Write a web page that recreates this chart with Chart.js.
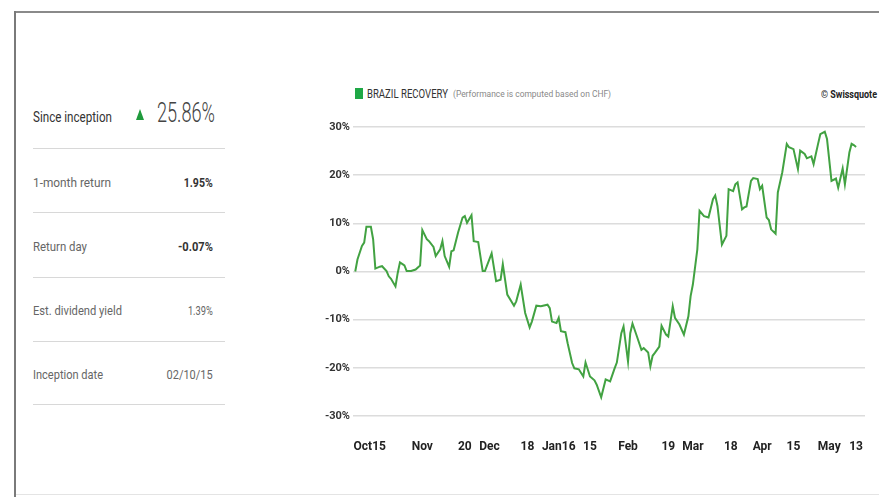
<!DOCTYPE html>
<html>
<head>
<meta charset="utf-8">
<script src="https://cdn.jsdelivr.net/npm/chart.js@4/dist/chart.umd.min.js"></script>
<style>
  html, body { margin: 0; padding: 0; background: #fff; }
  body { width: 879px; height: 497px; position: relative; overflow: hidden; font-family: Roboto, "Noto Sans", sans-serif; }
  .frame-top { position: absolute; left: 15px; top: 11px; width: 864px; height: 2px; background: #8a8a8a; }
  .frame-left { position: absolute; left: 14px; top: 11px; width: 2px; height: 486px; background: #7a7a7a; }
  .frame-bottom { position: absolute; left: 16px; top: 494px; width: 863px; height: 1px; background: #e4e4e4; }
  .t { position: absolute; white-space: nowrap; line-height: 1; }
  .l { transform-origin: left center; }
  .r { transform-origin: right center; text-align: right; }
  .lbl { font-size: 13px; color: #666; }
  .val { font-size: 13px; color: #666; }
  .b { font-weight: bold; color: #333; }
  .rule { position: absolute; left: 33px; width: 192px; height: 1px; background: #d8d8d8; }
  #wrap { position: absolute; left: 300px; top: 110px; width: 579px; height: 350px; }
</style>
</head>
<body>
<div class="frame-top"></div>
<div class="frame-left"></div>
<div class="frame-bottom"></div>

<!-- key figures; data-w is the width each text is narrowed to -->
<div class="t l" data-w="79" style="left:33px;top:110px;font-size:14px;color:#333;">Since inception</div>
<div style="position:absolute;left:136px;top:109px;width:0;height:0;border-left:4.5px solid transparent;border-right:4.5px solid transparent;border-bottom:11px solid #1f9a3c;"></div>
<div class="t l" data-w="58" style="left:157px;top:99px;font-size:28px;font-weight:300;color:#444;">25.86%</div>
<div class="rule" style="top:148px"></div>

<div class="t l lbl" data-w="78" style="left:33px;top:176px;">1-month return</div>
<div class="t r val b" data-w="29" style="right:666px;top:176px;">1.95%</div>
<div class="rule" style="top:212px"></div>

<div class="t l lbl" data-w="54" style="left:33px;top:240px;">Return day</div>
<div class="t r val b" data-w="35" style="right:666px;top:240px;">-0.07%</div>
<div class="rule" style="top:277px"></div>

<div class="t l lbl" data-w="89" style="left:33px;top:304px;">Est. dividend yield</div>
<div class="t r val" data-w="25" style="right:666px;top:304px;">1.39%</div>
<div class="rule" style="top:341px"></div>

<div class="t l lbl" data-w="70" style="left:33px;top:368px;">Inception date</div>
<div class="t r val" data-w="46" style="right:666px;top:368px;">02/10/15</div>
<div class="rule" style="top:404px"></div>

<!-- chart header -->
<div style="position:absolute;left:355px;top:88px;width:8px;height:11px;background:#1fa846;"></div>
<div class="t l" data-w="81" style="left:367px;top:88px;font-size:12px;color:#333;">BRAZIL RECOVERY</div>
<div class="t l" data-w="158" style="left:453px;top:90px;font-size:9px;color:#888;">(Performance is computed based on CHF)</div>
<div class="t l" data-w="56" style="left:821px;top:89px;font-size:11px;font-weight:bold;color:#222;">© Swissquote</div>

<div id="wrap"><canvas id="perfChart"></canvas></div>

<script>
// days since inception (02/10/15) and performance in %
const days = [0, 1, 3, 4, 5, 7, 8, 9, 11, 12, 14, 15, 16, 18, 19, 20, 22, 23, 25, 27,
  29, 30, 32, 33, 35, 36, 38, 39, 40, 42, 43, 44, 46, 48, 49, 50, 52, 53, 55, 57,
  58, 61, 63, 65, 66, 68, 71, 72, 74, 76, 78, 79, 81, 83, 86, 87, 88, 90, 91, 92,
  94, 95, 97, 98, 100, 102, 103, 105, 107, 108, 110, 112, 114, 116, 117, 119, 120, 122, 123, 124,
  126, 128, 129, 131, 132, 133, 134, 136, 137, 139, 140, 142, 143, 145, 147, 149, 150, 151, 153, 154,
  156, 158, 160, 161, 162, 164, 166, 167, 169, 170, 171, 173, 174, 175, 177, 178, 180, 181, 182, 184,
  185, 186, 188, 189, 191, 193, 194, 196, 198, 199, 201, 202, 204, 205, 207, 208, 210, 211, 213, 215,
  216, 218, 219, 221, 222, 223, 224];
const performance = [0, 2.5, 5.3, 6, 9.3, 9.3, 6.7, 0.6, 1, 1.1, 0.1, -1, -1.5, -3.1, -0.3, 1.9, 1.25, 0.1, 0.1, 0.4,
  1.25, 8.6, 6.7, 6.3, 5.1, 3.2, 4.6, 6.3, 3.2, 1, 4.2, 4.4, 8.1, 11.2, 11.5, 10.1, 11.7, 6.3, 6.1, 0.1,
  0.1, 3.75, -2, -1.7, 1.5, -4.8, -7.1, -6.2, -2.7, -8.6, -11.6, -10.4, -7.1, -7.2, -6.9, -7.6, -10.4, -10.7, -9.6, -12.4,
  -12.6, -14.9, -19, -20.1, -20.3, -21.8, -18.9, -21.8, -22.6, -23.5, -26.1, -22.4, -22.8, -20.1, -18.9, -12.8, -11.4, -18.7, -12.8, -10.8,
  -13.5, -16.25, -15.9, -16.8, -19.7, -17.5, -16.9, -15.6, -11.25, -13.1, -13.5, -7.2, -9.6, -11, -13.1, -9.3, -5.1, -2.7, 4.6, 12.6,
  11.5, 11.2, 15, 15.8, 13.6, 5.6, 7.4, 17.1, 16.7, 18.1, 18.5, 12.9, 13.3, 13.5, 18.8, 19.4, 19.2, 17.1, 17.8, 11.2,
  10.7, 8.75, 7.85, 16.4, 20.6, 26.5, 25.8, 25.4, 21.25, 25.1, 24.4, 23.5, 23.9, 22.3, 26.5, 28.5, 29, 27.5, 18.8, 19.3,
  17.4, 21.4, 18.1, 24.7, 26.5, 26.25, 25.86];

// x axis labels; the first one sits just inside the left edge
const tickDays = [6.5, 30, 49, 60, 77, 91, 105, 122, 140, 151, 168, 182, 196, 212, 224];
const tickLabels = ['Oct15', 'Nov', '20', 'Dec', '18', 'Jan16', '15', 'Feb', '19', 'Mar', '18', 'Apr', '15', 'May', '13'];
const yTicks = [-30, -20, -10, 0, 10, 20, 30];

// squeeze the html texts into a narrow look
document.querySelectorAll('[data-w]').forEach(el => {
  const w = el.getBoundingClientRect().width;
  el.style.transform = 'scaleX(' + (el.dataset.w / w) + ')';
});

const axisFont = { family: 'Roboto, sans-serif', weight: 'bold' };

new Chart(document.getElementById('perfChart'), {
  type: 'line',
  data: {
    datasets: [{
      label: 'BRAZIL RECOVERY',
      data: days.map((d, i) => ({ x: d, y: performance[i] })),
      borderColor: '#42a242',
      borderWidth: 2,
      pointRadius: 0,
      tension: 0,
      fill: false
    }]
  },
  options: {
    responsive: true,
    maintainAspectRatio: false,
    animation: false,
    layout: { padding: { top: 17, right: 2, left: 0, bottom: 0 } },
    plugins: { legend: { display: false }, tooltip: { enabled: false } },
    scales: {
      x: {
        type: 'linear',
        min: -1,
        max: 228,
        grid: { display: false },
        border: { display: false },
        afterFit: s => { s.height = 44; },
        afterBuildTicks: s => { s.ticks = tickDays.map(v => ({ value: v })); },
        ticks: {
          autoSkip: false,
          maxRotation: 0,
          padding: 16,
          color: '#222',
          font: { ...axisFont, size: 12 },
          callback: (v, i) => tickLabels[i]
        }
      },
      y: {
        min: -30,
        max: 30,
        afterFit: s => { s.width = 53; },
        afterBuildTicks: s => { s.ticks = yTicks.map(v => ({ value: v })); },
        grid: { color: '#dcdcdc', lineWidth: 1.5, drawTicks: false },
        border: { display: false },
        ticks: {
          padding: 3,
          color: '#333',
          font: { ...axisFont, size: 11 },
          callback: v => v + '%'
        }
      }
    }
  }
});
</script>
</body>
</html>
